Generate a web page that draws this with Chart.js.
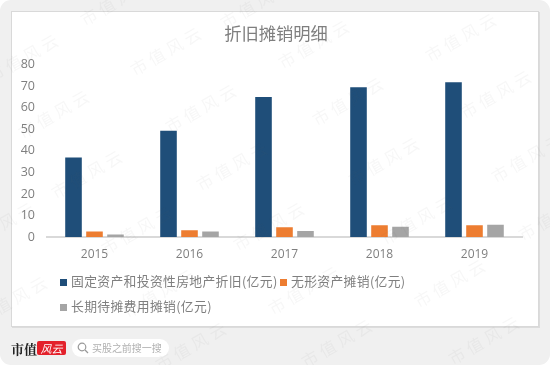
<!DOCTYPE html>
<html>
<head>
<meta charset="utf-8">
<script src="https://cdn.jsdelivr.net/npm/chart.js@4"></script>
<style>
html, body { margin: 0; padding: 0; background: #fff; }
#page { position: relative; width: 550px; height: 365px; background: #f0f0f0; border-radius: 11px; overflow: hidden; font-family: "Noto Sans CJK SC", sans-serif; }
#card { position: absolute; left: 11px; top: 11px; width: 526px; height: 314px; background: #fff; border: 1px solid #d9d9d9; box-shadow: 1px 1px 0 #dcdcdc; }
canvas { position: absolute; left: 0; top: 0; }
#legend { position: absolute; left: 60px; top: 272px; width: 400px; font-size: 12.8px; color: #7f7f7f; }
.item { position: absolute; white-space: nowrap; line-height: 18px; letter-spacing: 0.35px; }
.item i { display: inline-block; width: 7px; height: 7px; margin-right: 4px; vertical-align: 0; }
.wm { position: absolute; color: rgba(90,90,90,.05); font-size: 16.5px; letter-spacing: 4px; white-space: nowrap; transform: translate(-50%,-50%) rotate(-30deg); pointer-events: none; }
#brand { position: absolute; left: 11px; top: 339px; font: bold 13px "Noto Serif CJK SC", "Noto Sans CJK SC", serif; color: #222; }
#logo { position: absolute; left: 37px; top: 341px; width: 29px; height: 14px; background: #e3212b; border-radius: 2px; color: #fff; font-size: 11px; line-height: 14px; text-align: center; font-style: italic; }
#search { position: absolute; left: 72px; top: 339px; width: 97px; height: 18px; background: #fff; border-radius: 9px; color: #b0b0b0; font-size: 10px; line-height: 18px; }
#search span { position: absolute; left: 20px; letter-spacing: -0.05px; white-space: nowrap; }
#search svg { position: absolute; left: 5px; top: 3px; }
</style>
</head>
<body>
<div id="page">
  <div id="card"></div>
  <canvas id="mainChart" width="550" height="365"></canvas>
  <div id="legend"></div>
  <div id="brand">市值</div>
  <div id="logo">风云</div>
  <div id="search">
    <svg width="12" height="12" viewBox="0 0 12 12"><circle cx="5" cy="5" r="3.8" fill="none" stroke="#999" stroke-width="1.2"/><path d="M8 8l3 3" stroke="#999" stroke-width="1.2"/></svg>
    <span>买股之前搜一搜</span>
  </div>
</div>
<script>
const years = ['2015', '2016', '2017', '2018', '2019'];
const fixedAssets = [36.9, 49.4, 65, 69.5, 71.9];
const intangibles = [2.5, 3.1, 4.5, 5.4, 5.4];
const longTerm = [1.2, 2.5, 2.8, 4.8, 5.7];
const seriesNames = ['固定资产和投资性房地产折旧(亿元)', '无形资产摊销(亿元)', '长期待摊费用摊销(亿元)'];
const seriesColors = ['#1f4e79', '#ed7d31', '#a5a5a5'];
const yTicks = [0, 10, 20, 30, 40, 50, 60, 70, 80];

const FONT = '"Open Sans", "Noto Sans CJK SC", sans-serif';
const CJK = '"Noto Sans CJK SC", sans-serif';

// legend sits on its own two rows, left aligned, so it is built as html from the chart's labels
const legendPlaces = [[0, 0], [220, 0], [0, 25]];
const htmlLegend = {
  id: 'htmlLegend',
  afterUpdate(chart) {
    const box = document.getElementById('legend');
    box.innerHTML = '';
    chart.options.plugins.legend.labels.generateLabels(chart).forEach((l, i) => {
      const el = document.createElement('div');
      el.className = 'item';
      el.style.left = legendPlaces[i][0] + 'px';
      el.style.top = legendPlaces[i][1] + 'px';
      el.innerHTML = '<i style="background:' + l.fillStyle + '"></i>' + l.text;
      box.appendChild(el);
    });
  }
};

// tick labels hang into the left padding, so the axis box has to reach the canvas edge or they get clipped
const widenYAxis = {
  id: 'widenYAxis',
  afterLayout(chart) { chart.scales.y.left = 0; }
};

new Chart(document.getElementById('mainChart').getContext('2d'), {
  type: 'bar',
  plugins: [htmlLegend, widenYAxis],
  data: {
    labels: years,
    datasets: [
      { label: seriesNames[0], data: fixedAssets, backgroundColor: seriesColors[0] },
      { label: seriesNames[1], data: intangibles, backgroundColor: seriesColors[1] },
      { label: seriesNames[2], data: longTerm, backgroundColor: seriesColors[2] }
    ]
  },
  options: {
    responsive: false,
    animation: false,
    // left padding keeps the title centred on the card
    layout: { padding: { left: 30, right: 28, top: 0, bottom: 98 } },
    datasets: { bar: { categoryPercentage: 0.663, barPercentage: 0.79, borderWidth: 0 } },
    plugins: {
      legend: { display: false },
      tooltip: { enabled: false },
      title: {
        display: true,
        text: '折旧摊销明细',
        color: '#7f7f7f',
        font: { family: CJK, size: 17.3, weight: 'normal' },
        padding: { top: 23, bottom: 21 }
      }
    },
    scales: {
      x: {
        grid: { display: false, drawTicks: false },
        border: { color: '#d9d9d9', width: 2 },
        ticks: { color: '#7f7f7f', font: { family: FONT, size: 12 }, padding: 10, maxRotation: 0 },
        afterFit(scale) { scale.height = 30; }
      },
      y: {
        min: 0,
        max: 80,
        grid: { display: false, drawTicks: false },
        border: { display: false },
        afterBuildTicks(scale) { scale.ticks = yTicks.map(v => ({ value: v })); },
        ticks: { color: '#7f7f7f', font: { family: FONT, size: 12.5 }, padding: 12 },
        afterFit(scale) { scale.width = 17; }
      }
    }
  }
});

// faint site watermark across the picture
const marks = [[24,57],[167,50],[55,113],[202,107],[88,173],[233,165],[117,0],[257,3],[315,43],[462,36],[349,100],[497,93],[385,160],[528,157],[138,229],[0,225],[270,225],[13,299],[160,292],[192,345],[418,219],[555,215],[305,289],[451,282],[338,342],[485,339]];
marks.forEach(m => {
  const s = document.createElement('div');
  s.className = 'wm';
  s.textContent = '市值风云';
  s.style.left = m[0] + 'px';
  s.style.top = m[1] + 'px';
  document.getElementById('page').appendChild(s);
});
</script>
</body>
</html>
